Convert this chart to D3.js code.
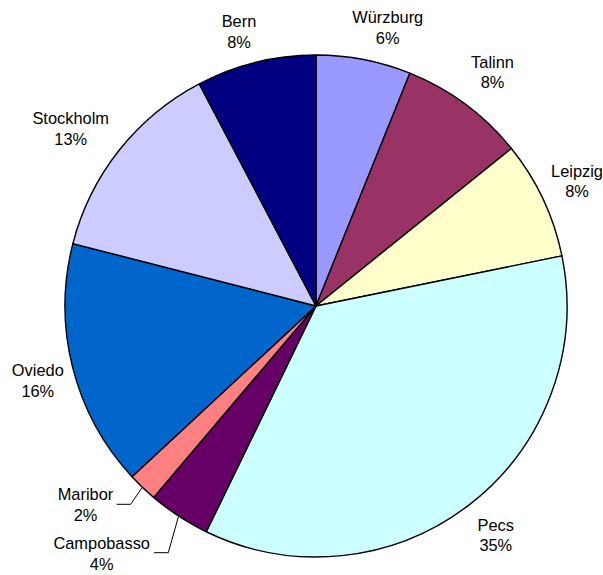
<!DOCTYPE html>
<html>
<head>
<meta charset="utf-8">
<script src="https://cdn.jsdelivr.net/npm/d3@7"></script>
<style>
  html, body { margin: 0; padding: 0; background: #fff; }
  svg { display: block; }
</style>
</head>
<body>
<svg id="chart" width="603" height="575"></svg>
<script>
// City shares, clockwise from 12 o'clock
const cities = ["Würzburg", "Talinn", "Leipzig", "Pecs", "Campobasso", "Maribor", "Oviedo", "Stockholm", "Bern"];
const shares = [6.1, 8.1, 7.6, 35.4, 4.0, 1.9, 15.9, 13.3, 7.7];
const colors = ["#9999FF", "#993366", "#FFFFCC", "#CCFFFF", "#660066", "#FF8080", "#0066CC", "#CCCCFF", "#000080"];

// Label anchors: centre x and first-line baseline y; optional leader elbow
const labelLayout = [
  { x: 387.7, y: 23.0 },
  { x: 492.5, y: 67.7 },
  { x: 577.0, y: 176.7 },
  { x: 495.8, y: 530.7 },
  { x: 101.7, y: 549.3, leader: [[154, 552.7], [168.3, 552.7]] },
  { x: 85.5,  y: 500.0, leader: [[116.7, 504.3], [130.7, 504.3]] },
  { x: 37.8,  y: 376.0 },
  { x: 70.7,  y: 124.0 },
  { x: 239.0, y: 27.3 }
];

const cx = 316, cy = 306, radius = 251;
const svg = d3.select("#chart");
const g = svg.append("g").attr("transform", `translate(${cx},${cy})`);

const total = d3.sum(shares);
const data = cities.map((c, i) => ({ city: c, value: shares[i], color: colors[i], layout: labelLayout[i] }));

const pie = d3.pie().value(d => d.value).sort(null);
const arcs = pie(data);
const arc = d3.arc().innerRadius(0).outerRadius(radius);

g.selectAll("path.slice")
  .data(arcs)
  .join("path")
  .attr("class", "slice")
  .attr("d", arc)
  .attr("fill", d => d.data.color)
  .attr("stroke", "#000")
  .attr("stroke-width", 1.4)
  .attr("stroke-linejoin", "round");

// Leader lines for the small slices
arcs.filter(d => d.data.layout.leader).forEach(d => {
  const mid = (d.startAngle + d.endAngle) / 2;
  const edge = [cx + (radius + 1) * Math.sin(mid), cy - (radius + 1) * Math.cos(mid)];
  const pts = d.data.layout.leader.concat([edge]);
  svg.append("path")
    .attr("d", d3.line()(pts))
    .attr("fill", "none")
    .attr("stroke", "#000")
    .attr("stroke-width", 1);
});

// Two-line labels: name and rounded percentage
const labels = svg.selectAll("text.label")
  .data(arcs)
  .join("text")
  .attr("class", "label")
  .attr("text-anchor", "middle")
  .attr("font-family", "'Liberation Sans', Arial, sans-serif")
  .attr("font-size", "16.4px")
  .attr("fill", "#000");

labels.append("tspan")
  .attr("x", d => d.data.layout.x)
  .attr("y", d => d.data.layout.y)
  .text(d => d.data.city);

labels.append("tspan")
  .attr("x", d => d.data.layout.x)
  .attr("y", d => d.data.layout.y + 20.7)
  .text(d => Math.round(d.data.value / total * 100) + "%");
</script>
</body>
</html>
